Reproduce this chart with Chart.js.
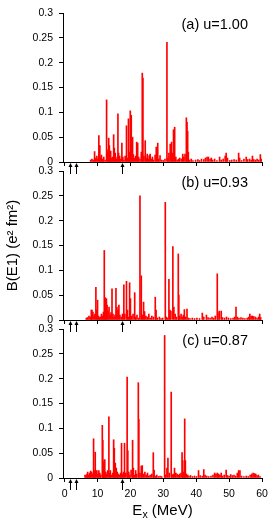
<html>
<head>
<script src="https://cdn.jsdelivr.net/npm/chart.js"></script>
<style>
  body { margin: 0; background: #fff; }
  canvas.panel { position: absolute; left: 0; }
</style>
</head>
<body>
<canvas id="chartA" class="panel" width="275" height="175" style="top:0px"></canvas>
<canvas id="chartB" class="panel" width="275" height="175" style="top:158px"></canvas>
<canvas id="chartC" class="panel" width="275" height="204" style="top:316px"></canvas>

<script>
// ---- data ----
const xTicks = [0, 10, 20, 30, 40, 50, 60];
const yTicks = [0, 0.05, 0.1, 0.15, 0.2, 0.25, 0.3];
const arrowE = [1.5, 3.6, 17.5];   // arrows under the energy axis

// (a) u=1.00
const energyA = [7.9, 8.3, 8.7, 9.1, 9.4, 9.8, 10.1, 10.4, 10.7, 10.9, 11.2, 11.6, 11.9, 12.3, 12.75, 13.0, 13.2, 13.4, 13.6, 13.8,
  14.0, 14.3, 14.6, 14.9, 15.1, 15.4, 15.7, 16.0, 16.2, 16.4, 16.7, 17.0, 17.4, 17.7, 18.0, 18.4, 18.8, 19.1, 19.4, 19.7,
  19.95, 20.25, 20.65, 20.9, 21.2, 21.6, 21.9, 22.2, 22.5, 22.9, 23.3, 23.6, 23.8, 24.1, 24.5, 24.8, 25.1, 25.4, 25.7, 26.0,
  26.4, 26.7, 27.0, 27.5, 27.85, 28.3, 28.6, 29.0, 29.5, 30.0, 30.5, 31.1, 31.4, 31.7, 32.1, 32.5, 32.8, 33.1, 33.45, 33.8,
  34.2, 34.6, 35.0, 35.5, 35.9, 36.2, 36.6, 37.0, 37.2, 37.4, 37.6, 38.0, 38.5, 39.0, 39.8, 40.5, 41.0, 41.6, 42.3, 42.8,
  43.3, 43.7, 44.2, 44.6, 45.0, 45.6, 46.3, 47.1, 47.6, 48.2, 48.8, 49.1, 49.5, 50.2, 50.8, 51.5, 52.2, 52.9, 53.2, 53.8,
  54.5, 55.2, 55.6, 56.2, 56.7, 57.1, 57.5, 58.0, 58.5, 59.0, 59.5, 59.8];
const strengthA = [0.004, 0.006, 0.004, 0.021, 0.008, 0.012, 0.006, 0.053, 0.033, 0.01, 0.014, 0.006, 0.01, 0.004, 0.125, 0.02, 0.025, 0.048, 0.033, 0.015,
  0.022, 0.008, 0.01, 0.055, 0.028, 0.018, 0.006, 0.01, 0.097, 0.018, 0.012, 0.006, 0.038, 0.01, 0.004, 0.012, 0.073, 0.008, 0.087, 0.02,
  0.103, 0.094, 0.05, 0.015, 0.008, 0.012, 0.04, 0.038, 0.01, 0.006, 0.02, 0.179, 0.169, 0.012, 0.043, 0.008, 0.016, 0.006, 0.013, 0.016,
  0.006, 0.01, 0.004, 0.014, 0.03, 0.038, 0.006, 0.013, 0.004, 0.003, 0.006, 0.241, 0.008, 0.018, 0.036, 0.04, 0.018, 0.065, 0.07, 0.01,
  0.004, 0.006, 0.008, 0.006, 0.016, 0.01, 0.016, 0.089, 0.08, 0.062, 0.02, 0.004, 0.006, 0.003, 0.004, 0.005, 0.003, 0.006, 0.005, 0.008,
  0.01, 0.01, 0.006, 0.008, 0.004, 0.006, 0.003, 0.01, 0.004, 0.006, 0.012, 0.018, 0.008, 0.003, 0.004, 0.005, 0.004, 0.018, 0.008, 0.003,
  0.006, 0.01, 0.005, 0.006, 0.004, 0.012, 0.005, 0.004, 0.006, 0.004, 0.015, 0.006];

// (b) u=0.93
const energyB = [6.6, 7.0, 7.4, 7.8, 8.1, 8.3, 8.6, 8.9, 9.2, 9.5, 9.8, 10.0, 10.3, 10.6, 10.9, 11.2, 11.5, 11.8, 12.05, 12.3,
  12.5, 12.7, 12.9, 13.2, 13.5, 13.8, 14.1, 14.4, 14.7, 15.0, 15.3, 15.6, 15.9, 16.2, 16.5, 16.8, 17.2, 17.6, 18.0, 18.3,
  18.8, 19.1, 19.4, 19.75, 20.0, 20.4, 20.8, 21.3, 21.6, 22.0, 22.5, 22.9, 23.3, 23.6, 24.0, 24.3, 24.7, 25.1, 25.6, 26.0,
  26.5, 27.0, 27.55, 27.8, 28.2, 28.8, 29.3, 29.8, 30.6, 30.9, 31.3, 31.7, 32.0, 32.3, 32.9, 33.2, 33.6, 34.0, 34.55, 34.7,
  35.0, 35.4, 35.8, 36.1, 36.4, 36.8, 37.2, 37.6, 38.1, 38.8, 39.5, 40.2, 41.0, 41.85, 42.3, 43.1, 43.6, 44.2, 44.8, 45.3,
  45.8, 46.4, 46.6, 47.0, 47.6, 48.0, 48.6, 49.2, 49.8, 50.5, 51.2, 51.7, 52.1, 52.5, 53.0, 53.6, 54.2, 54.8, 55.5, 56.0,
  56.3, 56.7, 57.1, 57.5, 58.0, 58.5, 59.0, 59.3, 59.6];
const strengthB = [0.004, 0.005, 0.008, 0.006, 0.02, 0.02, 0.016, 0.008, 0.012, 0.066, 0.02, 0.04, 0.008, 0.005, 0.006, 0.012, 0.008, 0.016, 0.14, 0.045,
  0.042, 0.043, 0.03, 0.018, 0.026, 0.01, 0.015, 0.063, 0.012, 0.006, 0.01, 0.064, 0.026, 0.02, 0.03, 0.01, 0.006, 0.012, 0.071, 0.012,
  0.078, 0.02, 0.006, 0.075, 0.043, 0.008, 0.012, 0.055, 0.006, 0.01, 0.004, 0.25, 0.089, 0.01, 0.036, 0.017, 0.008, 0.006, 0.012, 0.004,
  0.008, 0.006, 0.046, 0.02, 0.004, 0.006, 0.003, 0.004, 0.237, 0.006, 0.004, 0.082, 0.02, 0.018, 0.148, 0.026, 0.012, 0.006, 0.133, 0.05,
  0.008, 0.012, 0.006, 0.01, 0.021, 0.006, 0.022, 0.004, 0.003, 0.004, 0.003, 0.004, 0.003, 0.014, 0.006, 0.01, 0.005, 0.004, 0.006, 0.004,
  0.008, 0.093, 0.015, 0.018, 0.018, 0.005, 0.004, 0.006, 0.004, 0.003, 0.004, 0.006, 0.026, 0.006, 0.004, 0.005, 0.004, 0.003, 0.004, 0.006,
  0.012, 0.008, 0.008, 0.007, 0.006, 0.004, 0.006, 0.012, 0.005];

// (c) u=0.87
const energyC = [6.2, 6.5, 6.8, 7.0, 7.3, 7.6, 7.9, 8.2, 8.5, 8.8, 9.0, 9.3, 9.5, 9.8, 10.1, 10.4, 10.7, 11.0, 11.45, 11.6,
  11.8, 12.0, 12.2, 12.5, 12.8, 13.1, 13.45, 13.7, 13.9, 14.2, 14.6, 14.9, 15.1, 15.4, 15.7, 16.0, 16.3, 16.7, 17.0, 17.3,
  17.6, 17.9, 18.2, 18.6, 19.0, 19.2, 19.5, 19.8, 20.2, 20.66, 20.9, 21.2, 21.6, 21.9, 22.4, 22.55, 22.9, 23.3, 23.6, 24.0,
  24.4, 24.8, 25.2, 25.6, 26.0, 26.5, 26.95, 27.2, 27.6, 28.0, 28.5, 29.0, 29.5, 30.4, 30.7, 31.1, 31.4, 31.8, 32.4, 32.7,
  33.0, 33.4, 33.8, 34.2, 34.6, 35.0, 35.4, 35.7, 35.9, 36.2, 36.5, 36.7, 37.0, 37.4, 37.8, 38.3, 38.9, 39.5, 40.1, 40.7,
  41.2, 41.8, 42.3, 42.7, 43.2, 43.8, 44.5, 45.1, 45.6, 46.0, 46.4, 46.8, 47.2, 47.6, 48.0, 48.5, 49.1, 49.5, 50.0, 50.5,
  51.0, 51.5, 52.0, 52.5, 52.9, 53.3, 53.8, 54.5, 55.2, 55.8, 56.4, 56.9, 57.3, 57.7, 58.1, 58.5, 58.9, 59.4];
const strengthC = [0.006, 0.005, 0.008, 0.012, 0.006, 0.01, 0.014, 0.012, 0.008, 0.079, 0.015, 0.052, 0.015, 0.015, 0.008, 0.015, 0.01, 0.006, 0.106, 0.076,
  0.03, 0.035, 0.037, 0.012, 0.008, 0.015, 0.123, 0.01, 0.015, 0.006, 0.01, 0.077, 0.06, 0.03, 0.02, 0.012, 0.008, 0.006, 0.01, 0.07,
  0.008, 0.012, 0.07, 0.01, 0.203, 0.055, 0.012, 0.006, 0.016, 0.076, 0.02, 0.006, 0.015, 0.008, 0.192, 0.118, 0.01, 0.024, 0.025, 0.008,
  0.012, 0.006, 0.01, 0.004, 0.006, 0.008, 0.051, 0.016, 0.004, 0.006, 0.003, 0.004, 0.003, 0.287, 0.006, 0.02, 0.04, 0.01, 0.173, 0.006,
  0.008, 0.02, 0.01, 0.008, 0.006, 0.008, 0.01, 0.051, 0.035, 0.012, 0.119, 0.035, 0.008, 0.006, 0.004, 0.005, 0.003, 0.004, 0.003, 0.015,
  0.005, 0.004, 0.017, 0.006, 0.004, 0.003, 0.004, 0.006, 0.01, 0.008, 0.01, 0.008, 0.006, 0.01, 0.004, 0.006, 0.016, 0.005, 0.004, 0.007,
  0.005, 0.006, 0.004, 0.01, 0.015, 0.015, 0.004, 0.003, 0.004, 0.003, 0.006, 0.008, 0.01, 0.009, 0.008, 0.005, 0.006, 0.003];

const FONT = "'Liberation Sans', Arial, Helvetica, sans-serif";

// panel tag "(a) u=1.00" in the top right corner
const panelLabel = {
  id: 'panelLabel',
  afterDraw(chart, args, opts) {
    const {ctx, chartArea} = chart;
    ctx.save();
    ctx.font = '14.5px ' + FONT;
    ctx.fillStyle = '#000';
    ctx.textAlign = 'right';
    ctx.textBaseline = 'middle';
    ctx.fillText(opts.text, chartArea.right - 14, chartArea.top + 12);
    ctx.restore();
  }
};

// the little black arrows hanging under the energy axis
const arrows = {
  id: 'arrows',
  afterDraw(chart) {
    const {ctx, chartArea, scales} = chart;
    const y0 = chartArea.bottom;
    ctx.save();
    ctx.strokeStyle = '#000';
    ctx.fillStyle = '#000';
    ctx.lineWidth = 1;
    arrowE.forEach(e => {
      const x = Math.round(scales.x.getPixelForValue(e)) + 0.5;
      ctx.beginPath();
      ctx.moveTo(x, y0 + 4);
      ctx.lineTo(x, y0 + 12);
      ctx.stroke();
      ctx.beginPath();
      ctx.moveTo(x, y0 + 1);
      ctx.lineTo(x - 2, y0 + 5);
      ctx.lineTo(x + 2, y0 + 5);
      ctx.closePath();
      ctx.fill();
    });
    ctx.restore();
  }
};

// E_x (MeV) under the last panel, drawn by hand for the subscript
const energyTitle = {
  id: 'energyTitle',
  afterDraw(chart, args, opts) {
    if (!opts.show) return;
    const {ctx, chartArea} = chart;
    ctx.save();
    ctx.fillStyle = '#000';
    ctx.textBaseline = 'alphabetic';
    ctx.textAlign = 'left';
    const big = '15px ' + FONT, small = '10.5px ' + FONT;
    ctx.font = big;  const wE = ctx.measureText('E').width;
    ctx.font = small; const wx = ctx.measureText('x').width;
    ctx.font = big;  const wR = ctx.measureText(' (MeV)').width;
    let x = (chartArea.left + chartArea.right) / 2 - (wE + wx + wR) / 2;
    const y = chart.height - 5;
    ctx.font = big;   ctx.fillText('E', x, y); x += wE;
    ctx.font = small; ctx.fillText('x', x, y + 3); x += wx;
    ctx.font = big;   ctx.fillText(' (MeV)', x, y);
    ctx.restore();
  }
};

function makePanel(id, energies, strengths, tag, bottom, yTitle) {
  const points = energies.map((e, i) => ({x: e, y: strengths[i]}));
  return new Chart(document.getElementById(id), {
    type: 'bar',
    data: {
      datasets: [{
        label: tag,
        data: points,
        backgroundColor: '#ff0000',
        borderWidth: 0,
        barThickness: 1
      }]
    },
    options: {
      responsive: false,
      animation: false,
      devicePixelRatio: 1,
      layout: {padding: {top: 13, right: 13, left: 0, bottom: 0}},
      plugins: {
        legend: {display: false},
        tooltip: {enabled: false},
        panelLabel: {text: tag},
        energyTitle: {show: bottom}
      },
      scales: {
        x: {
          type: 'linear',
          min: -0.5,
          max: 60,
          offset: false,
          grid: {drawOnChartArea: false, drawTicks: true, tickLength: 4, color: '#000', offset: false},
          border: {display: true, color: '#000', width: 1},
          afterBuildTicks: s => { s.ticks = xTicks.map(v => ({value: v})); },
          ticks: {display: bottom, padding: 6, color: '#000', maxRotation: 0,
                  font: {family: FONT, size: 10.5}, callback: v => String(v)},
          afterFit: s => { s.height = bottom ? 42 : 13; }
        },
        y: {
          min: 0,
          max: 0.3,
          grid: {drawOnChartArea: false, drawTicks: true, tickLength: 4, color: '#000'},
          border: {display: true, color: '#000', width: 1},
          afterBuildTicks: s => { s.ticks = yTicks.map(v => ({value: v})); },
          ticks: {padding: 6, color: '#000', font: {family: FONT, size: 10.5}, callback: v => String(v)},
          title: {display: yTitle, text: 'B(E1) (e² fm²)', color: '#000',
                  font: {family: FONT, size: 15}, padding: {top: 4, bottom: 0}},
          afterFit: s => { s.width = 63; }
        }
      }
    },
    plugins: [panelLabel, arrows, energyTitle]
  });
}

makePanel('chartA', energyA, strengthA, '(a) u=1.00', false, false);
makePanel('chartB', energyB, strengthB, '(b) u=0.93', false, true);
makePanel('chartC', energyC, strengthC, '(c) u=0.87', true, false);
</script>
</body>
</html>
